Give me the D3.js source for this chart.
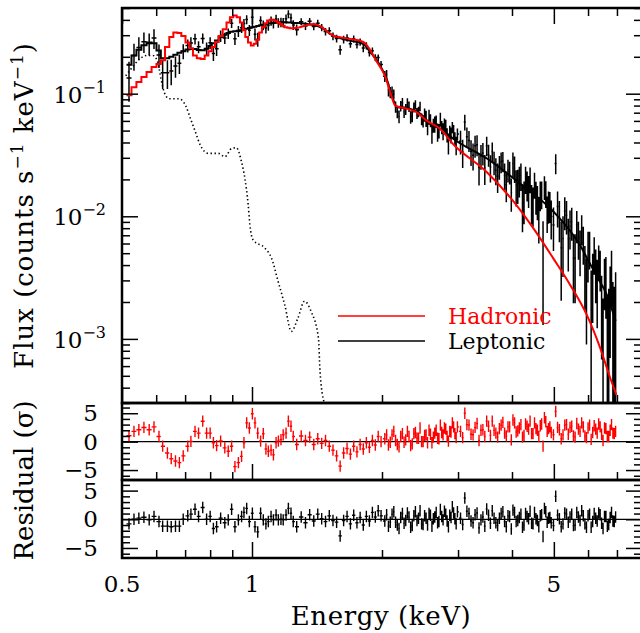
<!DOCTYPE html>
<html>
<head>
<meta charset="utf-8">
<script src="https://cdn.jsdelivr.net/npm/d3@7"></script>
<style>
  body { margin: 0; background: #fff; }
  text { font-family: "DejaVu Serif", serif; fill: #000; }
</style>
</head>
<body>
<svg id="chart" width="640" height="633"></svg>
<script>
// ---- spectral bins (keV) ----
var binE = [
  0.519, 0.533, 0.547, 0.562, 0.578, 0.593, 0.609, 0.621, 0.637, 0.650,
  0.665, 0.679, 0.693, 0.710, 0.722, 0.738, 0.752, 0.769, 0.785, 0.800,
  0.814, 0.828, 0.846, 0.865, 0.881, 0.897, 0.913, 0.930, 0.946, 0.958,
  0.972, 0.986, 1.002, 1.016, 1.031, 1.047, 1.062, 1.077, 1.091, 1.107,
  1.121, 1.137, 1.151, 1.167, 1.181, 1.199, 1.214, 1.231, 1.246, 1.269,
  1.30, 1.33, 1.36, 1.39, 1.42, 1.45, 1.48, 1.51, 1.54, 1.57, 1.60, 1.63,
  1.66, 1.69, 1.72, 1.75, 1.78, 1.81, 1.84, 1.87, 1.90, 1.93, 1.96, 1.99,
  2.03, 2.07, 2.11, 2.15, 2.19, 2.23, 2.27, 2.31, 2.35, 2.39, 2.43, 2.47, 2.51,
  2.55, 2.59, 2.63, 2.67, 2.71, 2.75, 2.79, 2.83, 2.87, 2.91, 2.95, 2.99,
  3.04, 3.11, 3.18, 3.25, 3.32, 3.39, 3.46, 3.53, 3.60, 3.67, 3.74, 3.81, 3.88, 3.95,
  4.02, 4.09, 4.16, 4.23, 4.30, 4.37, 4.44, 4.51, 4.58, 4.65, 4.72, 4.79, 4.86, 4.93,
  5.05, 5.15, 5.25, 5.35, 5.45, 5.55, 5.65, 5.75, 5.85, 5.95,
  6.05, 6.15, 6.25, 6.35, 6.45, 6.55, 6.65, 6.75, 6.85, 6.95
];

// observed flux (counts s^-1 keV^-1) and 1-sigma error
var flux = [
  .134, .205, .238, .265, .257, .284, .207, .148, .148, .153,
  .168, .177, .222, .247, .259, .280, .241, .282, .233, .260,
  .213, .233, .296, .284, .310, .376, .281, .323, .345, .373,
  .402, .329, .420, .306, .278, .396, .362, .343, .360, .393,
  .375, .406, .379, .383, .380, .408, .446, .416, .364, .333,
  .387, .357, .389, .354, .376, .347, .321, .326, .294, .282, .228, .277,
  .286, .256, .280, .252, .264, .236, .246, .217, .224, .197, .197, .173,
  .139, .107, .105, .078, .0651, .0845, .0747, .0786, .0660, .0814, .0711, .0622, .0674,
  .0536, .0606, .0553, .0596, .0499, .0533, .0564, .0461, .0487, .0532, .0429, .0468,
  .0409, .0588, .0415, .0314, .0384, .0311, .0248, .0319, .0337, .0238, .0255, .0282, .0181, .0230,
  .0269, .0179, .0198, .0128, .0203, .0165, .0133, .0183, .0135, .0151, .0052, .0155, .0123, .00996,
  .027, .00975, .0066, .0102, .00825, .00455, .00853, .00545, .00612, .0027,
  .00558, .00315, .00365, .00438, .00198, .00311, .00062, .0023, .00121, .0019
];
var fluxErr = [
  .048, .051, .050, .050, .052, .052, .045, .039, .039, .036,
  .033, .032, .031, .030, .030, .028, .027, .027, .028, .029,
  .028, .030, .032, .030, .031, .032, .032, .033, .033, .033,
  .034, .034, .080, .035, .036, .033, .033, .033, .034, .034,
  .034, .034, .034, .034, .034, .034, .034, .034, .034, .034,
  .026, .026, .026, .025, .025, .024, .023, .022, .021, .020, .020, .020,
  .019, .019, .019, .018, .018, .018, .017, .016, .014, .013, .012, .012,
  .0143, .0122, .0096, .0082, .0078, .0077, .0076, .0076, .0074, .0072, .0070, .0068, .0083,
  .0078, .0074, .0072, .0069, .0068, .0066, .0065, .0062, .0060, .0057, .0056, .0053,
  .0090, .0086, .0081, .0078, .0075, .0071, .0068, .0065, .0062, .0059, .0056, .0053, .0051, .0048,
  .0062, .0059, .0056, .0054, .0051, .0048, .0047, .0044, .0042, .0041, .0039, .0038, .0036, .0035,
  .005, .0036, .0034, .0031, .0029, .0026, .0025, .0022, .0021, .0018,
  .0019, .0018, .0017, .0014, .0013, .0014, .0016, .0016, .0017, .0016
];

// residuals in sigma
var resHad = [
  1.05, 1.8, 2.1, 2.5, 2.1, 2.6, 0.9, -0.8, -2.0, -3.0,
  -3.4, -3.7, -2.5, -0.8, 0.05, 1.8, 1.5, 3.6, 1.5, 1.5,
  -0.2, -0.7, 0.1, -1.1, -1.7, -0.8, -4.4, -3.7, -2.6, -0.2,
  3.3, 2.4, 4.9, 3.3, 1.5, 0.1, 1.4, -1.3, -1.7, -1.5,
  -2.3, -0.2, 0.1, 0.35, 1.2, 1.5, 3.6, 2.7, 0.9, -0.5,
  1.0, 0.2, 0.8, -0.5, 0.5, -0.3, 0.2, -0.8, -1.5, -2.5, -4.3, -2.0,
  -1.2, -2.2, -0.8, -1.8, -0.5, -1.3, -0.2, -1.0, 0.2, -0.6, 0.9, 0.0,
  0.5, -0.6, 1.2, 0.2, -0.9, 1.4, 0.3, 0.9, -0.4, 1.6, 0.6, 0.0, 1.1,
  -0.2, 1.3, 0.8, 2.0, 0.5, 1.6, 2.4, 0.9, 1.8, 3.3, 1.4, 2.6,
  1.8, 5.0, 2.9, 1.2, 3.2, 2.0, 0.9, 2.7, 3.6, 1.5, 2.3, 3.4, 1.0, 2.6,
  3.8, 1.7, 2.4, 0.8, 3.1, 2.2, 1.4, 3.3, 2.0, 2.8, -0.8, 3.5, 2.3, 1.6,
  5.3, 2.1, 1.2, 3.0, 2.5, 1.0, 3.2, 1.8, 2.6, 0.7,
  2.9, 1.6, 2.2, 3.1, 1.3, 2.4, 0.9, 2.0, 1.5, 1.8
];
var resLep = [
  -0.8, 0, 0.2, 0.35, -0.1, 0.5, -0.4, -1.2, -1.2, -1.3,
  -1.2, -1.2, 0, 0.6, 0.9, 1.75, 0.5, 2.05, 0, 0.5,
  -1.6, -1.3, 0.2, -0.6, -0.1, 1.75, -1.3, -0.1, 0.5, 1.2,
  1.9, -0.4, 1.05, -1.3, -2.2, 1.05, -0.1, -0.8, -0.4, 0.5,
  -0.1, 0.75, -0.1, 0, -0.1, 0.75, 1.9, 1.05, -0.4, -1.3,
  0.4, -0.6, 0.8, -0.3, 0.9, 0.1, -0.4, 0.6, -0.2, -0.5, -2.9, -0.2,
  0.5, -0.8, 0.7, -0.6, 0.3, -1.0, 0.5, -0.3, 1.2, 0.4, 1.5, 0.6,
  -0.3, -1.2, 0.9, -0.5, -1.6, 1.0, -0.2, 0.4, -1.1, 1.3, 0.2, -0.8, 0.6,
  -1.0, 0.7, 0.1, 1.2, -0.4, 0.5, 1.4, -0.3, 0.7, 2.2, 0.1, 1.3,
  0.2, 3.7, 1.0, -0.6, 1.1, -0.1, -1.2, 0.7, 1.5, -0.6, 0.2, 1.3, -1.3, 0.5,
  1.6, -0.4, 0.3, -1.4, 1.0, 0.1, -0.7, 1.2, -0.2, 0.6, -3.0, 1.3, 0.2, -0.6,
  4.0, 0.1, -0.8, 0.9, 0.4, -1.1, 1.2, -0.2, 0.6, -1.4,
  0.9, -0.4, 0.2, 1.1, -0.7, 0.5, -1.2, 0.3, -0.3, 0.4
];

// interleaved hard-band bins (2-7 keV)
var extraE = [
  2.05, 2.09, 2.13, 2.17, 2.21, 2.25, 2.29, 2.33, 2.37, 2.41, 2.45, 2.49,
  2.53, 2.57, 2.61, 2.65, 2.69, 2.73, 2.77, 2.81, 2.85, 2.89, 2.93, 2.97,
  3.075, 3.145, 3.215, 3.285, 3.355, 3.425, 3.495, 3.565, 3.635, 3.705, 3.775, 3.845, 3.915, 3.985,
  4.055, 4.125, 4.195, 4.265, 4.335, 4.405, 4.475, 4.545, 4.615, 4.685, 4.755, 4.825, 4.895, 4.99,
  5.10, 5.20, 5.30, 5.40, 5.50, 5.60, 5.70, 5.80, 5.90, 6.00,
  6.10, 6.20, 6.30, 6.40, 6.50, 6.60, 6.70, 6.80, 6.90
];
var extraFlux = [
  .1426, .1026, .0994, .0711, .0793, .0711, .0842, .0644, .0775, .0694, .0789, .0597,
  .0630, .0650, .0477, .0566, .0488, .0619, .0495, .0537, .0392, .0461, .0487, .0380,
  .0335, .0446, .0337, .0377, .0250, .0328, .0377, .0252, .0276, .0212, .0278, .0216, .0239, .0156,
  .0247, .0183, .0215, .0139, .0182, .0202, .0127, .0147, .0102, .0153, .0174, .0109, .0123, .0085,
  .0120, .00555, .0110, .00655, .00902, .00455, .00672, .00798, .00372, .00519,
  .00172, .00504, .00282, .00383, .00094, .00306, .00087, .00353, .00096
];
var extraErr = [
  .0132, .0108, .0088, .0079, .0077, .0077, .0076, .0075, .0073, .0071, .0069, .0066,
  .0096, .0091, .0087, .0085, .0082, .0081, .0078, .0075, .0073, .0069, .0068, .0065,
  .0087, .0083, .0080, .0077, .0072, .0069, .0068, .0063, .0060, .0057, .0054, .0053, .0050, .0047,
  .0060, .0057, .0054, .0053, .0050, .0048, .0045, .0044, .0042, .0039, .0038, .0036, .0035, .0033,
  .0039, .0035, .0033, .0030, .0027, .0026, .0023, .0022, .0020, .0023,
  .0019, .0017, .0016, .0014, .0012, .0016, .0017, .0017, .0017
];
var extraResHad = [
  1.2, -0.1, 1.8, -0.5, 0.9, -0.1, 1.8, -0.7, 1.4, 0.6, 2.4, 0.0,
  1.2, 2.0, -0.2, 1.5, 0.6, 2.9, 1.2, 2.2, 0.1, 1.7, 2.6, 0.7,
  0.7, 3.0, 1.3, 2.5, 0.2, 2.1, 3.6, 1.1, 2.0, 0.8, 2.9, 1.5, 2.6, 0.3,
  3.3, 1.9, 3.0, 1.1, 2.7, 3.6, 1.4, 2.3, 0.9, 3.1, 4.2, 1.8, 2.6, 1.2,
  2.5, 0.5, 2.9, 1.3, 2.7, 0.8, 2.2, 3.3, 1.0, 2.4,
  0.4, 2.8, 1.5, 2.6, 0.2, 2.3, 0.9, 3.0, 1.4
];
var extraResLep = [
  0.8, -0.5, 1.3, -1.0, 0.3, -0.7, 1.1, -1.4, 0.6, -0.2, 1.5, -0.9,
  0.2, 1.0, -1.2, 0.4, -0.6, 1.7, -0.1, 0.9, -1.3, 0.3, 1.1, -0.8,
  -0.9, 1.4, -0.3, 0.8, -1.5, 0.4, 1.8, -0.7, 0.2, -1.1, 1.0, -0.4, 0.6, -1.7,
  1.2, -0.2, 0.9, -1.0, 0.5, 1.4, -0.8, 0.1, -1.3, 0.8, 1.9, -0.5, 0.3, -1.1,
  0.7, -1.3, 1.1, -0.5, 0.9, -1.0, 0.4, 1.5, -0.8, 0.6,
  -1.4, 1.0, -0.3, 0.8, -1.6, 0.5, -0.9, 1.2, -0.4
];

// folded models on the first 50 bins (drawn as histograms)
var hadStep = [
  .097, .113, .1245, .137, .150, .165, .175, .187, .24, .29,
  .315, .312, .295, .262, .235, .205, .195, .192, .205, .222,
  .240, .264, .295, .335, .38, .42, .434, .42, .38, .33,
  .29, .262, .247, .255, .275, .315, .35, .375, .395, .401,
  .40, .392, .38, .368, .358, .349, .345, .342, .342, .345
];
var lepStep = [
  .172, .205, .228, .248, .262, .258, .225, .195, .195, .200,
  .208, .216, .222, .229, .232, .231, .227, .226, .233, .245,
  .258, .272, .290, .302, .313, .320, .323, .326, .329, .333,
  .338, .343, .348, .352, .357, .362, .365, .370, .373, .376,
  .378, .380, .382, .383, .383, .382, .381, .380, .378, .377
];

// models above 1.28 keV
var hadE = [1.285, 1.343, 1.386, 1.44, 1.54, 1.687, 1.81, 1.858, 1.947, 2.03, 2.09, 2.146,
  2.28, 2.40, 2.53, 2.72, 2.94, 3.49, 4.04, 4.48, 4.98, 5.45, 5.96, 6.40, 6.75, 6.98];
var hadF = [0.347, 0.364, 0.371, 0.355, 0.298, 0.280, 0.264, 0.240, 0.181, 0.141, 0.103, 0.080,
  0.0755, 0.071, 0.0607, 0.0519, 0.0380, 0.0231, 0.0131, 0.0080, 0.00456, 0.00277, 0.00157,
  0.000845, 0.000482, 0.00035];
var lepE = [1.285, 1.34, 1.44, 1.54, 1.687, 1.808, 1.876, 1.98, 2.05, 2.107, 2.164, 2.32,
  2.449, 2.584, 2.77, 2.92, 3.5, 4.17, 4.98, 5.75, 6.0, 6.3, 6.63, 6.95];
var lepF = [0.377, 0.371, 0.349, 0.298, 0.271, 0.255, 0.2195, 0.170, 0.132, 0.097, 0.078, 0.0755,
  0.0688, 0.057, 0.0503, 0.0431, 0.0296, 0.01855, 0.0110, 0.0058, 0.0044, 0.0032, 0.0023, 0.0014];

// soft thermal component (dotted)
var dotE = [0.51, 0.5215, 0.5501, 0.5697, 0.5897, 0.6049, 0.6156, 0.6262, 0.6429, 0.6776, 0.7018,
  0.7203, 0.7394, 0.7589, 0.7929, 0.8358, 0.8659, 0.8967, 0.9207, 0.9455, 0.9627, 0.9799, 0.9888,
  1.0065, 1.0713, 1.1095, 1.1496, 1.1909, 1.2335, 1.2775, 1.323, 1.37, 1.425, 1.437, 1.47];
var dotF = [0.14, 0.155, 0.1925, 0.205, 0.205, 0.181, 0.132, 0.103, 0.091, 0.091, 0.080,
  0.0626, 0.0488, 0.0381, 0.0326, 0.0326, 0.0306, 0.0357, 0.0362, 0.0278, 0.0204, 0.0124, 0.0085,
  0.0064, 0.0055, 0.00456, 0.00294, 0.00189, 0.00115, 0.00148, 0.00203, 0.00168, 0.00102, 0.00055, 0.0003];

// ticks and labels
var xMajor = [0.5, 1, 5];
var xMinor = [0.6, 0.7, 0.8, 0.9, 2, 3, 4, 6, 7, 8];
var xLabels = ["0.5", "1", "5"];
var yMajor = [1e-3, 1e-2, 1e-1];
var yExp = ["−3", "−2", "−1"];
var yMinor = [3e-4, 4e-4, 5e-4, 6e-4, 7e-4, 8e-4, 9e-4,
  2e-3, 3e-3, 4e-3, 5e-3, 6e-3, 7e-3, 8e-3, 9e-3,
  2e-2, 3e-2, 4e-2, 5e-2, 6e-2, 7e-2, 8e-2, 9e-2,
  2e-1, 3e-1, 4e-1, 5e-1];
var rMajor = [-5, 0, 5];
var rMinor = [-6, -4, -3, -2, -1, 1, 2, 3, 4, 6];
var rLabels = ["−5", "0", "5"];
var legendNames = ["Hadronic", "Leptonic"];
var legendColors = ["#ff0000", "#000000"];

// ---- layout ----
var xLeft = 122, xRight = 642,
    mainTop = 8, mainBot = 403, r1Bot = 480, r2Bot = 558;

var svg = d3.select("#chart");

var x = d3.scaleLog().domain([0.5, 8]).range([xLeft, xRight]);
var y = d3.scaleLog().domain([3e-4, 0.5]).range([mainBot, mainTop]);
var yr1 = d3.scaleLinear().domain([-6.75, 6.8]).range([r1Bot, mainBot]);
var yr2 = d3.scaleLinear().domain([-6.75, 6.85]).range([r2Bot, r1Bot]);

// one table of bins, sorted by energy
var bins = binE.map(function (e, i) {
  return { e: e, f: flux[i], err: fluxErr[i], rh: resHad[i], rl: resLep[i] };
}).concat(extraE.map(function (e, i) {
  return { e: e, f: extraFlux[i], err: extraErr[i], rh: extraResHad[i], rl: extraResLep[i] };
}));
bins.sort(function (a, b) { return a.e - b.e; });

// clip paths for each panel
var defs = svg.append("defs");
[["clipMain", mainTop, mainBot], ["clipR1", mainBot, r1Bot], ["clipR2", r1Bot, r2Bot]].forEach(function (c) {
  defs.append("clipPath").attr("id", c[0]).append("rect")
    .attr("x", xLeft).attr("y", c[1]).attr("width", xRight - xLeft).attr("height", c[2] - c[1]);
});

// bin edges in pixel space
var xs = bins.map(function (b) { return x(b.e); });
var n = xs.length;
var binL = xs.map(function (v, i) { return i === 0 ? v - (xs[1] - xs[0]) / 2 : (xs[i - 1] + v) / 2; });
var binR = xs.map(function (v, i) { return i === n - 1 ? v + (v - xs[n - 2]) / 2 : (v + xs[i + 1]) / 2; });

// ---- main panel ----
var main = svg.append("g").attr("clip-path", "url(#clipMain)");

var dataPath = "";
bins.forEach(function (b, i) {
  var lo = b.f - b.err;
  var yLo = lo > 3e-4 ? y(lo) : mainBot + 5;
  dataPath += "M" + binL[i] + "," + y(b.f) + "H" + binR[i];
  dataPath += "M" + xs[i] + "," + y(b.f + b.err) + "V" + yLo;
});
main.append("path").attr("d", dataPath)
  .attr("fill", "none").attr("stroke", "#000").attr("stroke-width", 1.5);

function stepPoints(vals) {
  var pts = [];
  vals.forEach(function (v, i) {
    pts.push([binL[i], y(v)]);
    pts.push([binR[i], y(v)]);
  });
  return pts;
}
var linear = d3.line();
var smooth = d3.line().curve(d3.curveMonotoneX);

function smoothPoints(es, fs) {
  return es.map(function (e, i) { return [x(e), y(fs[i])]; });
}

// leptonic model
main.append("path").attr("d", linear(stepPoints(lepStep)))
  .attr("fill", "none").attr("stroke", "#000").attr("stroke-width", 2);
main.append("path").attr("d", smooth(smoothPoints(lepE, lepF)))
  .attr("fill", "none").attr("stroke", "#000").attr("stroke-width", 2);

// hadronic model
main.append("path").attr("d", linear(stepPoints(hadStep)))
  .attr("fill", "none").attr("stroke", "#ff0000").attr("stroke-width", 2);
main.append("path").attr("d", smooth(smoothPoints(hadE, hadF)))
  .attr("fill", "none").attr("stroke", "#ff0000").attr("stroke-width", 2);

// dotted component
main.append("path").attr("d", smooth(smoothPoints(dotE, dotF)))
  .attr("fill", "none").attr("stroke", "#000").attr("stroke-width", 1.6)
  .attr("stroke-dasharray", "1.4,2.6");

// legend
legendNames.forEach(function (name, i) {
  var ly = 316 + i * 25;
  svg.append("line").attr("x1", 338).attr("x2", 425).attr("y1", ly).attr("y2", ly)
    .attr("stroke", legendColors[i]).attr("stroke-width", 1.6);
  svg.append("text").attr("x", 448).attr("y", ly + 8)
    .style("font-size", "22px").style("fill", legendColors[i]).text(name);
});

// ---- residual panels ----
function residualPanel(scale, key, color, clipId) {
  var g = svg.append("g").attr("clip-path", "url(#" + clipId + ")");
  g.append("line").attr("x1", xLeft).attr("x2", xRight)
    .attr("y1", scale(0)).attr("y2", scale(0))
    .attr("stroke", "#000").attr("stroke-width", 1.3);
  var p = "";
  bins.forEach(function (b, i) {
    var r = b[key];
    p += "M" + binL[i] + "," + scale(r) + "H" + binR[i];
    p += "M" + xs[i] + "," + scale(r + 1) + "V" + scale(r - 1);
  });
  g.append("path").attr("d", p).attr("fill", "none")
    .attr("stroke", color).attr("stroke-width", 1.4);
}
residualPanel(yr1, "rh", "#ff0000", "clipR1");
residualPanel(yr2, "rl", "#000", "clipR2");

// ---- axes ----
function tickAxis(axis, vals, size, transform) {
  var g = svg.append("g").attr("transform", transform)
    .call(axis.tickValues(vals).tickSizeInner(-size).tickSizeOuter(0).tickFormat(""));
  g.select(".domain").remove();
  g.selectAll("line").attr("stroke-width", 1.5);
}
// main panel
tickAxis(d3.axisTop(x), xMajor, 16, "translate(0," + mainTop + ")");
tickAxis(d3.axisTop(x), xMinor, 8, "translate(0," + mainTop + ")");
tickAxis(d3.axisBottom(x), xMajor, 16, "translate(0," + mainBot + ")");
tickAxis(d3.axisBottom(x), xMinor, 8, "translate(0," + mainBot + ")");
tickAxis(d3.axisLeft(y), yMajor, 16, "translate(" + xLeft + ",0)");
tickAxis(d3.axisLeft(y), yMinor, 8, "translate(" + xLeft + ",0)");
tickAxis(d3.axisRight(y), yMajor, 16, "translate(" + xRight + ",0)");
tickAxis(d3.axisRight(y), yMinor, 8, "translate(" + xRight + ",0)");
// residual panels
[[yr1, r1Bot], [yr2, r2Bot]].forEach(function (p) {
  tickAxis(d3.axisBottom(x), xMajor, 16, "translate(0," + p[1] + ")");
  tickAxis(d3.axisBottom(x), xMinor, 8, "translate(0," + p[1] + ")");
  tickAxis(d3.axisLeft(p[0]), rMajor, 16, "translate(" + xLeft + ",0)");
  tickAxis(d3.axisLeft(p[0]), rMinor, 8, "translate(" + xLeft + ",0)");
  tickAxis(d3.axisRight(p[0]), rMajor, 16, "translate(" + xRight + ",0)");
  tickAxis(d3.axisRight(p[0]), rMinor, 8, "translate(" + xRight + ",0)");
});

// frames
[[mainTop, mainBot], [mainBot, r1Bot], [r1Bot, r2Bot]].forEach(function (f) {
  svg.append("rect").attr("x", xLeft).attr("y", f[0])
    .attr("width", xRight - xLeft).attr("height", f[1] - f[0])
    .attr("fill", "none").attr("stroke", "#000").attr("stroke-width", 2.5);
});

// tick labels
yMajor.forEach(function (v, i) {
  var t = svg.append("text").attr("x", 106).attr("y", y(v) + 9)
    .attr("text-anchor", "end").style("font-size", "23px");
  t.append("tspan").text("10");
  t.append("tspan").attr("dy", -10).style("font-size", "16px").text(yExp[i]);
});
[yr1, yr2].forEach(function (sc) {
  rMajor.forEach(function (v, i) {
    svg.append("text").attr("x", 98).attr("y", sc(v) + 8)
      .attr("text-anchor", "end").style("font-size", "23px").text(rLabels[i]);
  });
});
xMajor.forEach(function (v, i) {
  svg.append("text").attr("x", x(v)).attr("y", 592)
    .attr("text-anchor", "middle").style("font-size", "23px").text(xLabels[i]);
});

// axis titles
var fluxTitle = svg.append("text")
  .attr("transform", "translate(33," + ((mainTop + mainBot) / 2) + ") rotate(-90)")
  .attr("text-anchor", "middle").style("font-size", "26px").style("letter-spacing", "1px");
fluxTitle.append("tspan").text("Flux (counts s");
fluxTitle.append("tspan").attr("dy", -10).style("font-size", "17px").text("−1");
fluxTitle.append("tspan").attr("dy", 10).text(" keV");
fluxTitle.append("tspan").attr("dy", -10).style("font-size", "17px").text("−1");
fluxTitle.append("tspan").attr("dy", 10).text(")");

svg.append("text")
  .attr("transform", "translate(33," + ((mainBot + r2Bot) / 2) + ") rotate(-90)")
  .attr("text-anchor", "middle").style("font-size", "26px").text("Residual (σ)");

svg.append("text").attr("x", 381).attr("y", 625)
  .attr("text-anchor", "middle").style("font-size", "26px").style("letter-spacing", "0.6px")
  .text("Energy (keV)");
</script>
</body>
</html>
